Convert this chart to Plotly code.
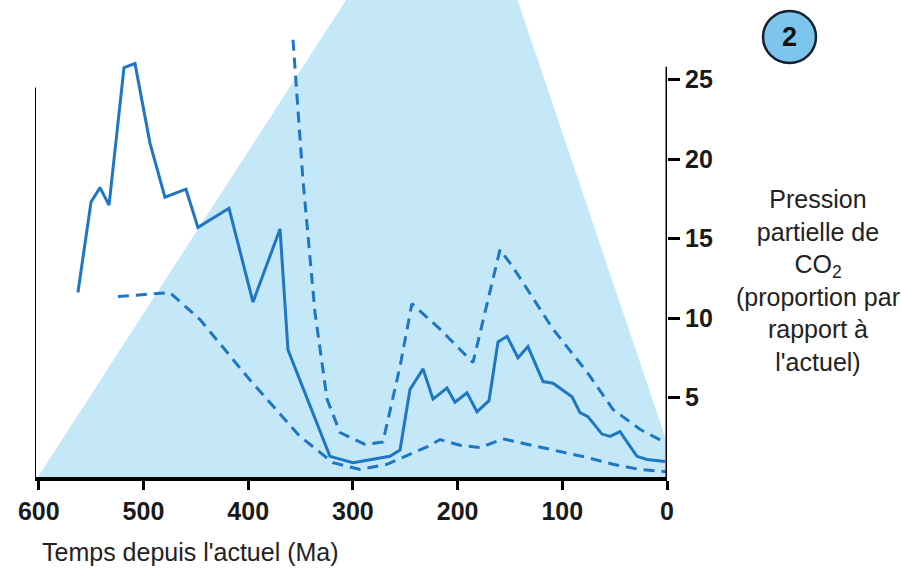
import plotly.graph_objects as go

# ---- data (age in Ma, CO2 relative to present) ----
co2_age = [562.6, 550.1, 541.5, 532.9, 518.6, 508.1, 493.8, 479.5, 459.4, 448.0,
           418.3, 395.4, 369.6, 362.0, 321.9, 299.9, 264.6, 255.0, 245.5, 233.0,
           223.5, 210.1, 202.5, 191.0, 181.5, 170.0, 161.4, 152.8, 142.3, 132.8,
           118.4, 108.9, 90.7, 83.1, 75.5, 62.1, 54.4, 44.9, 28.7, 19.1, 1.9]
co2_mean = [11.6, 17.3, 18.2, 17.1, 25.75, 26.0, 21.0, 17.6, 18.1, 15.7,
            16.9, 11.0, 15.6, 8.0, 1.3, 0.9, 1.3, 1.7, 5.5, 6.8,
            4.9, 5.6, 4.7, 5.3, 4.1, 4.8, 8.5, 8.85, 7.5, 8.2,
            6.0, 5.9, 5.05, 4.05, 3.8, 2.7, 2.55, 2.85, 1.3, 1.1, 0.97]

upper_age = [357.2, 347.7, 336.2, 324.7, 312.3, 288.4, 271.3, 255.0, 243.6, 216.8,
             185.3, 159.5, 147.1, 108.9, 76.4, 51.6, 25.8, 0.0]
upper_val = [27.5, 18.7, 10.35, 4.9, 2.8, 2.05, 2.2, 6.95, 10.9, 9.3,
             7.2, 14.3, 13.2, 9.3, 6.6, 4.25, 3.0, 2.1]

lower_age = [524.4, 474.7, 446.0, 398.3, 350.5, 319.0, 293.2, 267.4, 229.2, 216.8,
             197.7, 178.6, 156.6, 130.8, 102.2, 76.4, 51.6, 25.8, 0.0]
lower_val = [11.35, 11.6, 9.9, 6.1, 2.55, 0.9, 0.47, 0.8, 1.9, 2.35,
             2.0, 1.85, 2.4, 2.0, 1.6, 1.23, 0.8, 0.47, 0.33]

shade_age = [600.8, 305.6, 143.3, 0.0, 0.0]
shade_val = [0.0, 30.1, 30.1, 2.17, 0.0]

x_ticks = [600, 500, 400, 300, 200, 100, 0]
y_ticks = [5, 10, 15, 20, 25]

BLUE = "#1f77c4"
FONT = "Liberation Sans, Arial, sans-serif"

fig = go.Figure()
fig.add_trace(go.Scatter(x=shade_age, y=shade_val, fill="toself", mode="none",
                         fillcolor="#c4e8f7", hoverinfo="skip", showlegend=False))
fig.add_trace(go.Scatter(x=upper_age, y=upper_val, mode="lines",
                         line=dict(color=BLUE, width=3, dash="11px,7px"), showlegend=False))
fig.add_trace(go.Scatter(x=lower_age, y=lower_val, mode="lines",
                         line=dict(color=BLUE, width=3, dash="11px,7px"), showlegend=False))
fig.add_trace(go.Scatter(x=co2_age, y=co2_mean, mode="lines",
                         line=dict(color=BLUE, width=3), showlegend=False))

L, R, T, B = 35, 234, 0, 96
W, H = 901, 573
PW, PH = W - L - R, H - T - B

def px(xp):
    return (xp - L) / PW

def py(yp):
    return (T + PH - yp) / PH

fig.update_layout(
    width=W, height=H,
    margin=dict(l=L, r=R, t=T, b=B),
    paper_bgcolor="white", plot_bgcolor="white",
    font=dict(family=FONT, color="#222222"),
    xaxis=dict(range=[603.6, 0], tickvals=x_ticks, ticks="outside", ticklen=9,
               tickwidth=3, tickcolor="black", showline=True, linecolor="black",
               linewidth=4, showgrid=False, zeroline=False,
               tickfont=dict(size=25, family=FONT, color="#1a1a1a", weight="bold")),
    yaxis=dict(range=[0, PH / 15.9], side="right", tickvals=y_ticks, ticks="outside",
               ticklen=12, tickwidth=3, tickcolor="black", showline=False,
               showgrid=False, zeroline=False,
               tickfont=dict(size=25, family=FONT, color="#1a1a1a", weight="bold")),
    shapes=[
        dict(type="line", xref="x", yref="y", x0=603.6, x1=603.6, y0=0, y1=24.5,
             line=dict(color="black", width=2)),
        dict(type="line", xref="x", yref="y", x0=0, x1=0, y0=0, y1=25.8,
             line=dict(color="black", width=3)),
        dict(type="circle", xref="paper", yref="paper",
             x0=px(763), x1=px(816), y0=py(63), y1=py(11),
             fillcolor="#7cc5ec", line=dict(color="#14212e", width=2.5)),
    ],
    annotations=[
        dict(text="<b>2</b>", xref="paper", yref="paper", x=px(789.5), y=py(37),
             showarrow=False, font=dict(size=27, family=FONT, color="#111111"),
             xanchor="center", yanchor="middle"),
        dict(text="Pression<br>partielle de<br>CO<sub>2</sub><br>(proportion par<br>rapport à<br>l'actuel)",
             xref="paper", yref="paper", x=px(818), y=py(280), showarrow=False,
             align="center", xanchor="center", yanchor="middle",
             font=dict(size=25, family=FONT, color="#222222")),
        dict(text="Temps depuis l'actuel (Ma)", xref="paper", yref="paper",
             x=px(40), y=py(552), showarrow=False, xanchor="left", yanchor="middle",
             font=dict(size=25, family=FONT, color="#222222")),
    ],
)

fig.write_html("out.html", config={"displayModeBar": False},
               post_script="document.body.style.margin='0';")
